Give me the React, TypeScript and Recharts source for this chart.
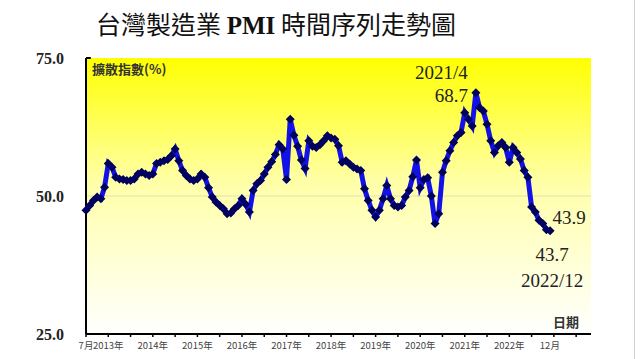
import React from 'react';
import { LineChart, Line, XAxis, YAxis, ReferenceLine, ReferenceDot } from 'recharts';

// Monthly PMI, starting 2012/7 (index 0) through 2022/12 (index 125)
const START_YEAR = 2012;
const START_MONTH = 7;

const pmiValues = [
  47.4, 48.3, 49.2, 49.8, 49.5, 51.6,
  55.9, 55.2, 53.4, 53.1, 53.0, 52.8, 52.8, 53.1, 54.0, 54.3, 54.0, 53.7,
  54.0, 55.9, 56.1, 56.4, 56.6, 57.3, 58.5, 56.4, 54.6, 53.7, 53.1, 52.8,
  53.1, 54.0, 53.4, 51.5, 49.8, 48.9, 48.3, 47.7, 46.8, 46.9, 47.7, 48.3,
  49.5, 48.5, 47.1, 51.0, 52.2, 52.8, 54.0, 55.2, 56.2, 57.5, 59.3, 58.5,
  53.0, 63.9, 61.0, 59.0, 56.5, 55.0, 60.0, 59.0, 58.8, 59.3, 60.0, 60.9,
  60.5, 60.3, 59.1, 56.1, 56.4, 55.8, 55.2, 54.9, 54.6, 51.3, 49.2, 47.4,
  46.2, 47.4, 49.5, 51.9, 49.5, 48.3, 48.0, 48.3, 49.8, 51.0, 53.5, 56.5,
  51.5, 53.0, 53.3, 50.0, 45.0, 46.8, 54.3, 56.4, 58.2, 59.7, 60.9, 61.5,
  65.1, 63.9, 62.7, 68.7, 66.0, 65.4, 63.0, 60.0, 57.9, 59.1, 59.7, 58.8,
  56.1, 58.8, 57.9, 56.7, 54.6, 53.4, 48.0, 47.1, 45.6, 45.0, 43.9, 43.7,
];

const yTicks = [25, 50, 75];
const xTicks = [0, 6, 12, 18, 24, 30, 36, 42, 48, 54, 60, 66, 72, 78, 84, 90, 96, 102, 108, 114, 120, 126, 132];
const xTickLabels: Record<number, string> = {
  0: '7月', 6: '2013年', 18: '2014年', 30: '2015年', 42: '2016年', 54: '2017年',
  66: '2018年', 78: '2019年', 90: '2020年', 102: '2021年', 114: '2022年', 126: '12月',
};

const data = pmiValues.map((v, i) => {
  const m = START_MONTH - 1 + i;
  return { idx: i, label: `${START_YEAR + Math.floor(m / 12)}/${(m % 12) + 1}`, pmi: v };
});

const peakIdx = pmiValues.indexOf(Math.max(...pmiValues));
const lastIdx = pmiValues.length - 1;

const serif = '"Liberation Serif", "Times New Roman", serif';
const cjk = '"Noto Sans CJK TC", "Noto Sans", sans-serif';

const Diamond = (props: any) => {
  const { cx, cy } = props;
  if (cx == null || cy == null) return null;
  const r = 4.5;
  return <path d={`M${cx},${cy - r}L${cx + r},${cy}L${cx},${cy + r}L${cx - r},${cy}Z`} fill="#00005e" />;
};

const YTick = (props: any) => {
  const { x, y, payload } = props;
  return (
    <text x={x - 14} y={y + 6} textAnchor="end" fontFamily={serif} fontWeight="bold" fontSize={16} fill="#222">
      {payload.value.toFixed(1)}
    </text>
  );
};

const XTick = (props: any) => {
  const { x, y, payload } = props;
  const label = xTickLabels[payload.value];
  if (!label) return null;
  const dx = payload.value === 126 ? -4 : 0;
  return (
    <text x={x + dx} y={y + 10} textAnchor="middle" fontFamily={cjk} fontSize={9.5} fill="#444">
      {label}
    </text>
  );
};

export default function App() {
  return (
    <div style={{ position: 'absolute', left: 0, top: 0, width: 640, height: 359, background: '#fff', overflow: 'hidden' }}>
      <div style={{ position: 'absolute', left: 634, top: 0, width: 1, height: 359, background: '#d0d0d0' }} />
      <div
        style={{
          position: 'absolute', left: 0, width: 552, top: 7, textAlign: 'center',
          fontFamily: cjk, fontSize: 25, color: '#111', whiteSpace: 'nowrap', lineHeight: '32px',
        }}
      >
        台灣製造業 <span style={{ fontFamily: serif, fontWeight: 'bold' }}>PMI</span> 時間序列走勢圖
      </div>
      <LineChart width={640} height={359} data={data} margin={{ top: 58, right: 49, bottom: 0, left: 0 }}>
        <defs>
          <linearGradient id="bgGrad" x1="0" y1="0" x2="0" y2="1">
            <stop offset="0%" stopColor="#ffff00" />
            <stop offset="45%" stopColor="#ffffa8" />
            <stop offset="100%" stopColor="#ffffff" />
          </linearGradient>
        </defs>
        <rect x={86} y={58} width={505} height={276} fill="url(#bgGrad)" />
        <XAxis
          dataKey="idx"
          type="number"
          domain={[0, 136]}
          ticks={xTicks}
          interval={0}
          height={25}
          axisLine={{ stroke: '#000', strokeWidth: 2 }}
          tickLine={{ stroke: '#000', strokeWidth: 1.5 }}
          tickSize={3}
          tick={<XTick />}
        />
        <YAxis
          domain={[25, 75]}
          ticks={yTicks}
          width={86}
          axisLine={{ stroke: '#000', strokeWidth: 2 }}
          tickLine={false}
          tick={<YTick />}
        />
        <ReferenceLine y={50} stroke="#e6dfb0" strokeWidth={1} />
        <ReferenceLine
          segment={[{ x: 0, y: 75 }, { x: 1.3, y: 75 }]}
          stroke="#000"
          strokeWidth={2}
        />
        <Line
          type="linear"
          dataKey="pmi"
          stroke="#1212e8"
          strokeWidth={5}
          dot={<Diamond />}
          activeDot={false}
          isAnimationActive={false}
        />
        <ReferenceDot
          x={peakIdx}
          y={pmiValues[peakIdx]}
          r={0}
          label={(p: any) => {
            const { cx, cy } = p.viewBox ? { cx: p.viewBox.x, cy: p.viewBox.y } : p;
            return (
              <g fontFamily={serif} fontSize={19} fill="#222">
                <text x={cx - 8} y={cy - 14} textAnchor="end">{data[peakIdx].label}</text>
                <text x={cx - 8} y={cy + 9} textAnchor="end">{pmiValues[peakIdx].toFixed(1)}</text>
              </g>
            );
          }}
        />
        <ReferenceDot
          x={lastIdx - 1}
          y={pmiValues[lastIdx - 1]}
          r={0}
          label={(p: any) => {
            const { cx, cy } = p.viewBox ? { cx: p.viewBox.x, cy: p.viewBox.y } : p;
            return (
              <text x={cx + 6} y={cy - 6} fontFamily={serif} fontSize={19} fill="#222">
                {pmiValues[lastIdx - 1].toFixed(1)}
              </text>
            );
          }}
        />
        <ReferenceDot
          x={lastIdx}
          y={pmiValues[lastIdx]}
          r={0}
          label={(p: any) => {
            const { cx, cy } = p.viewBox ? { cx: p.viewBox.x, cy: p.viewBox.y } : p;
            return (
              <g fontFamily={serif} fontSize={19} fill="#222">
                <text x={cx + 2} y={cy + 30} textAnchor="middle">{pmiValues[lastIdx].toFixed(1)}</text>
                <text x={cx + 2} y={cy + 56} textAnchor="middle">{data[lastIdx].label}</text>
              </g>
            );
          }}
        />
        <text x={92} y={74} fontFamily={cjk} fontWeight="bold" fontSize={13} fill="#333">擴散指數(%)</text>
        <text x={553} y={327} fontFamily={cjk} fontWeight="bold" fontSize={13} fill="#333">日期</text>
      </LineChart>
    </div>
  );
}
